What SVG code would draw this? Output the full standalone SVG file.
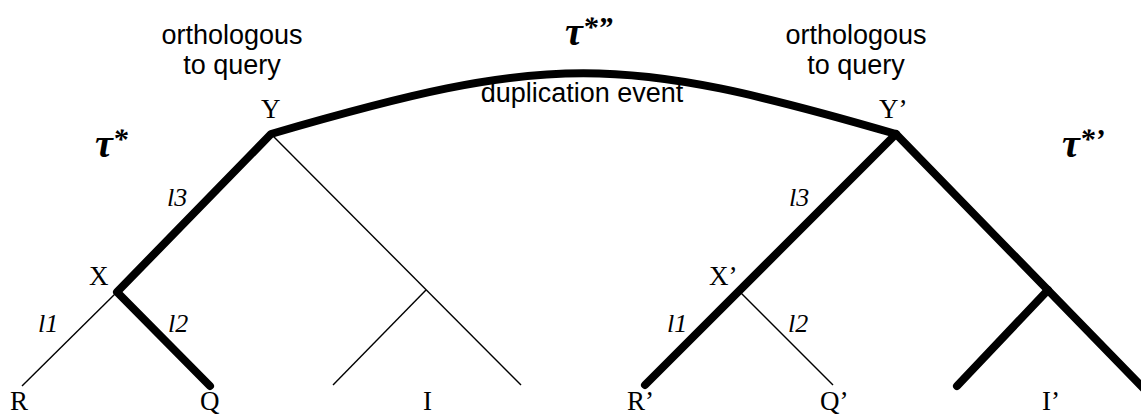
<svg xmlns="http://www.w3.org/2000/svg" width="1141" height="415" viewBox="0 0 1141 415">
<style>
.thick{fill:none;stroke:#000;stroke-width:8;stroke-linecap:round;stroke-linejoin:round}
.thin{fill:none;stroke:#000;stroke-width:1.4}
.lbl{font-family:"Liberation Serif","Times New Roman",serif;font-size:27px;fill:#000}
.br{font-family:"Liberation Serif","Times New Roman",serif;font-size:26px;font-style:italic;fill:#000}
.sans{font-family:"Liberation Sans",Arial,sans-serif;font-size:27px;fill:#000;text-anchor:middle}
.tau{font-family:"Liberation Serif","DejaVu Serif",serif;font-size:40px;font-weight:bold;font-style:italic;fill:#000}
.sup{font-size:30px}
</style>
<rect width="1141" height="415" fill="#fff"/>
<g id="connectors">
<path class="thick" d="M210,386 L117,292 L271,134 C549,53 618,53 896,134 L645,385"/>
<path class="thick" d="M896,134 L1150,395"/>
<path class="thick" d="M1048,290 L957,386"/>
<path class="thin" d="M117,292 L22,386"/>
<path class="thin" d="M271,134 L521,385"/>
<path class="thin" d="M426,290 L333,385"/>
<path class="thin" d="M739,291 L833,385"/>
</g>
<g id="node-Y"><text class="lbl" x="261" y="118">Y</text></g>
<g id="node-X"><text class="lbl" x="89" y="285">X</text></g>
<g id="node-R"><text class="lbl" x="10" y="410">R</text></g>
<g id="node-Q"><text class="lbl" x="200" y="410">Q</text></g>
<g id="node-I"><text class="lbl" x="423" y="410">I</text></g>
<g id="node-Y2"><text class="lbl" x="879" y="118">Y’</text></g>
<g id="node-X2"><text class="lbl" x="709" y="285">X’</text></g>
<g id="node-R2"><text class="lbl" x="627" y="410">R’</text></g>
<g id="node-Q2"><text class="lbl" x="820" y="410">Q’</text></g>
<g id="node-I2"><text class="lbl" x="1042" y="410">I’</text></g>
<g id="branch-labels">
<text class="br" x="167" y="206">l3</text>
<text class="br" x="38" y="332">l1</text>
<text class="br" x="168" y="332">l2</text>
<text class="br" x="789" y="206">l3</text>
<text class="br" x="667" y="332">l1</text>
<text class="br" x="788" y="332">l2</text>
</g>
<g id="annotations">
<text class="sans" x="232" y="44">orthologous</text>
<text class="sans" x="232" y="74">to query</text>
<text class="sans" x="856" y="44">orthologous</text>
<text class="sans" x="856" y="74">to query</text>
<text class="sans" x="582" y="102">duplication event</text>
<text class="tau" x="95" y="157">τ<tspan class="sup" dy="-8">*</tspan></text>
<text class="tau" x="565" y="45">τ<tspan class="sup" dy="-8">*”</tspan></text>
<text class="tau" x="1062" y="157">τ<tspan class="sup" dy="-8">*’</tspan></text>
</g>
</svg>
